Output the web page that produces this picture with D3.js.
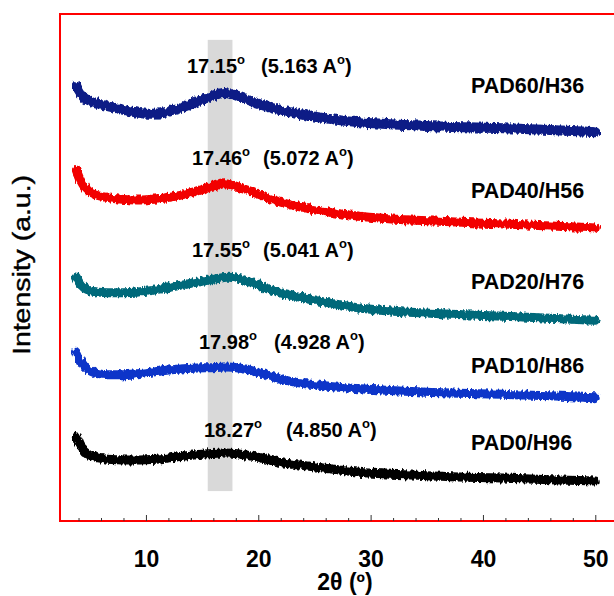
<!DOCTYPE html>
<html>
<head>
<meta charset="utf-8">
<script src="https://cdn.jsdelivr.net/npm/d3@7/dist/d3.min.js"></script>
<style>
	body { margin: 0; background: #fff; }
	svg { display: block; font-family: Arial, "Liberation Sans", sans-serif; }
</style>
</head>
<body>
<div id="chart"></div>
<script>
	// 2θ 값 (degree)
	var twoTheta = [3.8, 4.2, 4.8, 6, 8, 10, 12, 14, 16, 17, 18, 20, 22, 25, 29, 33, 37, 42, 46, 50];

	// 시료별 intensity (a.u., offset 포함)
	var pad60 = [85.8, 84.0, 82.8, 82.1, 81.1, 80.1, 80.5, 82.2, 84.0, 84.6, 84.0, 82.2, 80.9, 79.7, 78.5, 78.1, 77.7, 77.5, 77.1, 76.7];
	var pad40 = [69.2, 66.9, 64.9, 63.9, 63.3, 63.3, 63.7, 64.7, 66.1, 66.7, 66.1, 64.5, 62.7, 61.3, 60.0, 59.4, 59.0, 58.6, 58.2, 57.8];
	var pad20 = [48.1, 46.4, 45.4, 45.0, 45.0, 45.2, 46.0, 46.9, 47.7, 48.1, 48.1, 46.5, 44.8, 43.6, 41.8, 41.2, 40.8, 40.4, 40.0, 39.6];
	var pad10 = [33.3, 31.4, 29.6, 28.8, 28.8, 29.2, 29.8, 30.2, 30.2, 30.4, 30.4, 29.4, 27.8, 26.8, 26.0, 25.6, 25.2, 25.0, 24.7, 24.3];
	var pad0  = [16.6, 14.4, 13.0, 12.2, 12.0, 12.0, 12.4, 13.0, 13.4, 13.4, 13.4, 12.6, 11.4, 10.7, 9.5, 9.1, 8.7, 8.5, 8.1, 7.9];

	var sampleNames = ["PAD60/H36", "PAD40/H56", "PAD20/H76", "PAD10/H86", "PAD0/H96"];
	var peakAngles = ["17.15", "17.46", "17.55", "17.98", "18.27"];
	var dSpacings = ["5.163", "5.072", "5.041", "4.928", "4.850"];

	// 회색 밴드 범위 (2θ, intensity)
	var bandTheta = [15.5, 17.7];
	var bandIntensity = [5.9, 94.9];

	var majorTicks = [10, 20, 30, 40, 50];
	var minorTicks = [4, 6, 8, 12, 14, 16, 18, 22, 24, 26, 28, 32, 34, 36, 38, 42, 44, 46, 48];

	var colors = ["#0b1c86", "#f20000", "#00697a", "#0a34c9", "#000000"];

	// 라벨 위치 (px) - 데이터가 아닌 배치값
	var annoLayout = [
		{ y: 73, xa: 187, xd: 261 },
		{ y: 165, xa: 192, xd: 263 },
		{ y: 257, xa: 192, xd: 263 },
		{ y: 349, xa: 199, xd: 274 },
		{ y: 437, xa: 204, xd: 286 }
	];
	var nameLayout = [93, 198, 289, 373, 450];

	var W = 614, H = 596;
	var svg = d3.select("#chart").append("svg")
		.attr("width", W)
		.attr("height", H);

	// 측정 노이즈처럼 보이도록 선 가장자리를 거칠게
	var filt = svg.append("defs").append("filter")
		.attr("id", "rough")
		.attr("x", "-5%").attr("y", "-50%")
		.attr("width", "110%").attr("height", "200%");
	filt.append("feTurbulence")
		.attr("type", "fractalNoise")
		.attr("baseFrequency", "0.45 0.08")
		.attr("numOctaves", 2)
		.attr("seed", 3)
		.attr("result", "noise");
	filt.append("feDisplacementMap")
		.attr("in", "SourceGraphic")
		.attr("in2", "noise")
		.attr("scale", 6)
		.attr("xChannelSelector", "R")
		.attr("yChannelSelector", "G");

	var x = d3.scaleLinear().domain([2.35, 52.2]).range([60, 620]);
	var y = d3.scaleLinear().domain([0, 100]).range([521, 14]);

	// 회색 밴드
	svg.append("rect")
		.attr("x", x(bandTheta[0]))
		.attr("y", y(bandIntensity[1]))
		.attr("width", x(bandTheta[1]) - x(bandTheta[0]))
		.attr("height", y(bandIntensity[0]) - y(bandIntensity[1]))
		.attr("fill", "#d9d9d9");

	var series = [pad60, pad40, pad20, pad10, pad0];
	var line = d3.line()
		.x(function(d, i) { return x(twoTheta[i]); })
		.y(function(d) { return y(d); })
		.curve(d3.curveBasis);

	svg.append("g")
		.attr("filter", "url(#rough)")
		.selectAll("path")
		.data(series)
		.enter().append("path")
		.attr("d", line)
		.attr("fill", "none")
		.attr("stroke", function(d, i) { return colors[i]; })
		.attr("stroke-width", function(d, i) { return i === 0 ? 10 : 9; })
		.attr("stroke-linejoin", "round")
		.attr("stroke-linecap", "round");

	// 프레임
	svg.append("rect")
		.attr("x", x.range()[0])
		.attr("y", y.range()[1])
		.attr("width", x.range()[1] - x.range()[0])
		.attr("height", y.range()[0] - y.range()[1])
		.attr("fill", "none")
		.attr("stroke", "#ff0000")
		.attr("stroke-width", 2);

	// x축 (안쪽 눈금)
	var gMajor = svg.append("g")
		.attr("transform", "translate(0," + y.range()[0] + ")")
		.call(d3.axisBottom(x).tickValues(majorTicks).tickSizeInner(-6).tickSizeOuter(0).tickPadding(30));
	gMajor.select(".domain").remove();
	gMajor.selectAll("line").attr("stroke", "#333");
	gMajor.selectAll("text")
		.attr("font-size", 23)
		.attr("font-weight", "bold")
		.attr("font-family", "Arial, 'Liberation Sans', sans-serif")
		.attr("fill", "#000");

	var gMinor = svg.append("g")
		.attr("transform", "translate(0," + y.range()[0] + ")")
		.call(d3.axisBottom(x).tickValues(minorTicks).tickSizeInner(-3).tickSizeOuter(0).tickFormat(""));
	gMinor.select(".domain").remove();
	gMinor.selectAll("line").attr("stroke", "#333");

	// 축 제목
	svg.append("text")
		.attr("x", 345)
		.attr("y", 590)
		.attr("text-anchor", "middle")
		.attr("font-size", 23)
		.attr("font-weight", "bold")
		.text("2θ (º)");

	svg.append("text")
		.attr("transform", "translate(30,265) rotate(-90)")
		.attr("text-anchor", "middle")
		.attr("font-size", 23)
		.attr("stroke", "#000")
		.attr("stroke-width", 0.4)
		.attr("textLength", 180)
		.attr("lengthAdjust", "spacingAndGlyphs")
		.text("Intensity (a.u.)");

	// 피크 주석
	var anno = svg.append("g").attr("font-size", 20).attr("font-weight", "bold");
	peakAngles.forEach(function(a, i) {
		var L = annoLayout[i];
		var t1 = anno.append("text").attr("x", L.xa).attr("y", L.y);
		t1.append("tspan").text(a);
		t1.append("tspan").attr("font-size", 13).attr("dy", -9).text("o");

		var t2 = anno.append("text").attr("x", L.xd).attr("y", L.y);
		t2.append("tspan").text("(" + dSpacings[i] + " A");
		t2.append("tspan").attr("font-size", 13).attr("dy", -9).text("o");
		t2.append("tspan").attr("dy", 9).text(")");
	});

	// 시료명
	svg.append("g").selectAll("text")
		.data(sampleNames)
		.enter().append("text")
		.attr("x", 471)
		.attr("y", function(d, i) { return nameLayout[i]; })
		.attr("font-size", 21.5)
		.attr("font-weight", "bold")
		.text(function(d) { return d; });
</script>
</body>
</html>
